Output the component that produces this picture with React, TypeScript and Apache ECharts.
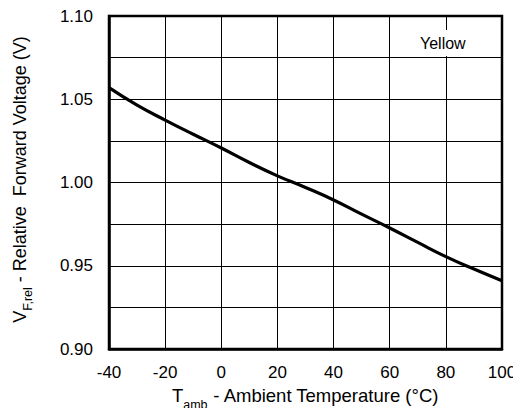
import React, { useEffect, useRef } from "react";
import * as echarts from "echarts";

const temperatures = [-40, -30, -20, -10, 0, 10, 20, 30, 40, 50, 60, 70, 80, 90, 100];
const vfRel = [1.057, 1.0465, 1.0375, 1.029, 1.0207, 1.012, 1.004, 0.997, 0.9895, 0.981, 0.9727, 0.964, 0.9555, 0.948, 0.941];
const seriesLabel = "Yellow";

const FONT = "'Liberation Sans', Arial, sans-serif";

export default function App() {
  const ref = useRef<HTMLDivElement>(null);
  useEffect(() => {
    if (!ref.current) return;
    const chart = echarts.init(ref.current, null, { renderer: "svg" });
    chart.setOption({
      animation: false,
      backgroundColor: "#ffffff",
      grid: {
        left: 109,
        right: 19,
        top: 16,
        bottom: 67,
        outerBoundsMode: "none",
        containLabel: false,
        show: true,
        borderColor: "#000",
        borderWidth: 2.5,
        backgroundColor: "transparent",
      },
      xAxis: {
        type: "value",
        min: -40,
        max: 100,
        interval: 20,
        name: "{m|T}{s|amb}{m| - Ambient Temperature (°C)}",
        nameLocation: "middle",
        nameGap: 35,
        nameTextStyle: {
          rich: {
            m: { fontFamily: FONT, fontSize: 18.5, color: "#000", verticalAlign: "bottom", lineHeight: 21 },
            s: { fontFamily: FONT, fontSize: 12.5, color: "#000", verticalAlign: "bottom", lineHeight: 13, padding: [0, 0, -6, 0] },
          },
        },
        axisLine: { show: true, onZero: false, lineStyle: { color: "#000", width: 2.5 } },
        axisTick: { show: false },
        axisLabel: { fontFamily: FONT, fontSize: 17, color: "#000", margin: 15 },
        splitLine: { show: true, lineStyle: { color: "#000", width: 1 } },
      },
      yAxis: {
        type: "value",
        min: 0.9,
        max: 1.1,
        interval: 0.025,
        name: "{m|V}{s|F,rel}{m| - Relative  Forward Voltage (V)}",
        nameLocation: "middle",
        nameGap: 80,
        nameRotate: 90,
        nameTextStyle: {
          padding: [0, 0, 0, 6],
          rich: {
            m: { fontFamily: FONT, fontSize: 18, color: "#000", verticalAlign: "bottom", lineHeight: 20 },
            s: { fontFamily: FONT, fontSize: 12.5, color: "#000", verticalAlign: "bottom", lineHeight: 13, padding: [0, 0, -5, 0] },
          },
        },
        axisLine: { show: true, onZero: false, lineStyle: { color: "#000", width: 2.5 } },
        axisTick: { show: false },
        axisLabel: {
          fontFamily: FONT,
          fontSize: 17,
          color: "#000",
          margin: 16,
          formatter: (v: number) => (Math.round(v * 1000) % 50 === 0 ? v.toFixed(2) : ""),
        },
        splitLine: { show: true, lineStyle: { color: "#000", width: 1 } },
      },
      graphic: [
        {
          type: "text",
          left: 417,
          top: 30,
          z: 10,
          style: {
            text: seriesLabel,
            fontFamily: FONT,
            fontSize: 16,
            fill: "#000",
            backgroundColor: "#fff",
            padding: [5, 3, 5, 3],
          },
        },
      ],
      series: [
        {
          type: "line",
          data: temperatures.map((t, i) => [t, vfRel[i]]),
          symbol: "none",
          smooth: true,
          lineStyle: { color: "#000", width: 3.2 },
          z: 5,
        },
      ],
    });
    return () => chart.dispose();
  }, []);
  return <div ref={ref} style={{ width: 521, height: 416, margin: -8 }} />;
}
